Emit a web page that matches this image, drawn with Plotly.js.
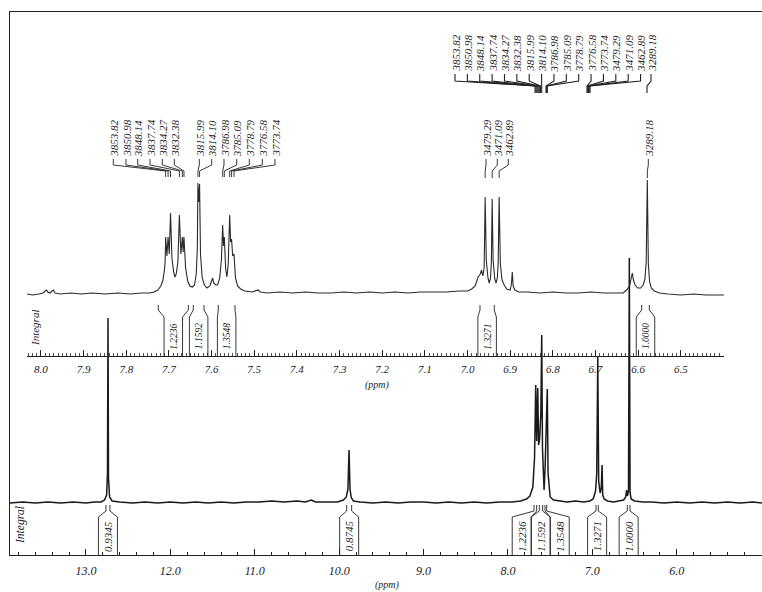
<!DOCTYPE html>
<html><head><meta charset="utf-8">
<script src="https://cdn.plot.ly/plotly-3.0.1.min.js"></script>
<style>html,body{margin:0;padding:0;background:#fff}#chart{width:762px;height:592px}</style>
</head><body><div id="chart"></div>
<script>
// ---------------- DATA ----------------
// Expanded spectrum (inset, 8.0 - 6.4 ppm): chemical shift and intensity
const expPpm = [8.033,8.020,8.005,7.995,7.990,7.987,7.984,7.979,7.974,7.971,7.967,7.955,7.930,7.905,7.880,7.850,7.820,7.790,7.765,7.745,7.735,7.726,7.719,7.714,7.7105,7.709,7.7076,7.7048,7.7020,7.6992,7.6963,7.693,7.689,7.686,7.683,7.679,7.6755,7.6720,7.6685,7.6667,7.6648,7.661,7.656,7.651,7.645,7.640,7.636,7.6335,7.632,7.6301,7.6282,7.626,7.622,7.617,7.611,7.604,7.600,7.5975,7.595,7.590,7.586,7.581,7.577,7.5740,7.5721,7.5702,7.567,7.564,7.561,7.5576,7.5554,7.5532,7.5505,7.5475,7.544,7.539,7.532,7.522,7.505,7.495,7.491,7.486,7.470,7.440,7.410,7.380,7.350,7.320,7.290,7.260,7.230,7.200,7.170,7.140,7.110,7.080,7.050,7.020,7.000,6.990,6.982,6.975,6.970,6.967,6.964,6.961,6.9586,6.956,6.952,6.949,6.946,6.944,6.9422,6.940,6.936,6.933,6.930,6.928,6.9258,6.923,6.919,6.914,6.908,6.900,6.897,6.895,6.893,6.889,6.880,6.860,6.830,6.800,6.770,6.740,6.710,6.680,6.650,6.635,6.627,6.620,6.6136,6.611,6.607,6.601,6.594,6.588,6.584,6.581,6.5784,6.576,6.573,6.569,6.562,6.550,6.530,6.500,6.470,6.440,6.410,6.399];
const expInt = [0,-1,0,1,3,4,2,1,3,4,1,0,1,0,1,0,1,0,1,1,2,4,8,14,24,32,57,38,57,40,81,36,22,17,20,32,79,40,57,42,57,26,13,8,7,9,20,45,111,92,110,40,16,9,6,8,13,16,11,9,9,16,34,69,48,57,25,17,30,79,52,55,38,40,16,8,5,3,2,3,4,2,1,2,1,2,1,1,2,1,2,1,2,1,2,2,2,3,3,5,8,17,20,24,18,26,97,34,16,11,16,32,95,34,15,11,16,32,97,30,14,9,5,4,10,22,8,4,2,2,1,2,1,1,2,1,1,1,4,8,21,14,9,6,6,9,15,32,114,30,12,6,3,1,0,-1,0,-1,-1,-1];

// Full spectrum (14 - 5 ppm)
const fullPpm = [13.90,13.75,13.60,13.45,13.30,13.15,13.00,12.90,12.82,12.78,12.755,12.745,12.739,12.733,12.72,12.69,12.60,12.45,12.30,12.15,12.00,11.85,11.70,11.55,11.40,11.25,11.10,10.95,10.80,10.65,10.50,10.40,10.33,10.28,10.15,10.02,9.95,9.915,9.896,9.883,9.871,9.855,9.83,9.75,9.60,9.45,9.30,9.15,9.00,8.85,8.70,8.55,8.40,8.25,8.10,7.95,7.85,7.78,7.74,7.705,7.685,7.671,7.660,7.647,7.637,7.625,7.610,7.600,7.591,7.582,7.572,7.560,7.547,7.534,7.525,7.512,7.50,7.46,7.40,7.30,7.20,7.10,7.03,6.99,6.962,6.948,6.936,6.925,6.908,6.895,6.885,6.877,6.86,6.82,6.75,6.68,6.63,6.605,6.594,6.585,6.572,6.562,6.553,6.54,6.50,6.40,6.30,6.15,6.00,5.85,5.70,5.55,5.40,5.25,5.10,4.99];
const fullInt = [0,1,0,1,0,1,0,1,1,3,8,30,185,25,6,2,1,0,1,0,1,0,1,0,1,0,1,1,2,1,2,1,3,1,1,1,3,6,14,53,13,5,2,1,0,1,0,1,1,0,1,0,1,0,1,1,2,4,7,16,45,118,62,115,58,64,90,168,55,28,13,35,70,114,30,12,6,3,2,1,2,1,2,4,12,30,146,22,10,14,38,8,4,2,1,2,3,6,13,7,12,245,10,4,2,1,1,0,1,0,1,0,1,0,1,0];

// Peak labels (Hz, spectrometer frequency 500 MHz)
const SF = 500;
const expPeakHz = [3853.82,3850.98,3848.14,3837.74,3834.27,3832.38,3815.99,3814.10,3786.98,3785.09,3778.79,3776.58,3773.74,3479.29,3471.09,3462.89,3289.18];
const fullPeakHz = [3853.82,3850.98,3848.14,3837.74,3834.27,3832.38,3815.99,3814.10,3786.98,3785.09,3778.79,3776.58,3773.74,3479.29,3471.09,3462.89,3289.18];

// Integrals: ranges (ppm) and values
const expIntFrom = [7.7250,7.6429,7.5843,6.9707,6.5916];
const expIntTo   = [7.6546,7.6178,7.5451,6.9372,6.5737];
const expIntVal  = ['1.2236','1.1592','1.3548','1.3271','1.0000'];
const fullIntFrom = [12.763,9.911,7.691,7.629,7.561,6.957,6.586];
const fullIntTo   = [12.716,9.852,7.660,7.589,7.541,6.930,6.554];
const fullIntVal  = ['0.9345','0.8745','1.2236','1.1592','1.3548','1.3271','1.0000'];

// Tick labels
const expTicks = [8.0,7.9,7.8,7.7,7.6,7.5,7.4,7.3,7.2,7.1,7.0,6.9,6.8,6.7,6.6,6.5];
const fullTicks = [13.0,12.0,11.0,10.0,9.0,8.0,7.0,6.0];

// ---------------- LAYOUT GEOMETRY ----------------
const W = 762, H = 592;
const X = p => p / W, Y = p => 1 - p / H;
const TOP = {l:27, r:724, t:12, b:356, x0:8.0328, x1:6.3986, y0:-62, y1:282};
const BOT = {l:10, r:762, t:12, b:555, x0:13.9, x1:4.99, y0:-52, y1:491};
const topPx = v => TOP.l + (TOP.x0 - v) / (TOP.x0 - TOP.x1) * (TOP.r - TOP.l);
const botPx = v => BOT.l + (BOT.x0 - v) / (BOT.x0 - BOT.x1) * (BOT.r - BOT.l);
const INK = '#222';
const SERIF = 'Liberation Serif, Times New Roman, serif';

const shapes = [], annotations = [];
const pathPx = pts => 'M' + pts.map(([x, y]) => X(x).toFixed(5) + ',' + Y(y).toFixed(5)).join('L');
function addPath(pts, w) {
  shapes.push({type:'path', xref:'paper', yref:'paper', path: pathPx(pts), line:{color:INK, width:w || 0.9}});
}
function addText(x, y, text, size, angle, xa, ya) {
  annotations.push({xref:'paper', yref:'paper', x:X(x), y:Y(y), text:text, showarrow:false,
    textangle: angle, xanchor: xa || 'center', yanchor: ya || 'middle', borderpad:0,
    font:{family:SERIF, size:size, color:INK, style:'italic'}});
}

// Peak label trees (inset)
const slotsA = [113.3,126,137.7,150,162.3,174.3,199.3,211.7,224,236.7,249.3,262.3,275,486,497.3,508.3,648.3];
expPeakHz.forEach((hz, i) => {
  const L = slotsA[i], T = topPx(hz / SF);
  const end = i >= 13 ? 178 : 177;
  addPath([[L,159],[L,165],[T,171],[T,end]]);
  addText(L, 158, hz.toFixed(2), 11, -90, 'center', 'bottom');
});

// Peak label tree (full spectrum, upper right)
const slotsB = fullPeakHz.map((h, i) => i < 16 ? 455 + i * 12.37 : 651);
const targetsB = [535,536,537,538,539,540,540.5,541.7,546,546.7,547.3,587,587.8,588.5,589.2,590,647];
fullPeakHz.forEach((hz, i) => {
  const L = slotsB[i], T = targetsB[i];
  addPath([[L,74],[L,81],[T,86],[T,93]], 1.1);
  addText(L, 73, hz.toFixed(2), 11, -90, 'center', 'bottom');
});

// Integral brackets
function integrals(from, to, vals, pxf, boxW, yTop, yBend, yRoof, yAxis, fs) {
  const n = from.length;
  const o = from.map((f, i) => [pxf(f), pxf(to[i])]);
  const mids = o.map(([a, b]) => (a + b) / 2);
  // resolve overlapping label boxes: group and center on mean
  const centers = mids.slice();
  let groups = [[0]];
  for (let i = 1; i < n; i++) {
    const g = groups[groups.length - 1];
    if (mids[i] - mids[g[g.length - 1]] < boxW) g.push(i); else groups.push([i]);
  }
  groups.forEach(g => {
    if (g.length < 2) return;
    const m = g.reduce((s, k) => s + mids[k], 0) / g.length;
    g.forEach((k, j) => centers[k] = m + (j - (g.length - 1) / 2) * boxW);
  });
  for (let i = 0; i < n; i++) {
    const [a, b] = o[i], c = centers[i];
    addPath([[a,yTop],[a,yBend],[c - boxW/2,yRoof],[c - boxW/2,yAxis]]);
    addPath([[b,yTop],[b,yBend],[c + boxW/2,yRoof],[c + boxW/2,yAxis]]);
    addText(c, (yRoof + yAxis) / 2, vals[i], fs, -90);
  }
}
integrals(expIntFrom, expIntTo, expIntVal, topPx, 18.5, 305, 310, 317, 356, 9.5);
integrals(fullIntFrom, fullIntTo, fullIntVal, botPx, 19, 505, 511, 517, 555, 11);

addText(35, 328, 'Integral', 11, -90);
addText(20, 525, 'Integral', 11.5, -90);
addText(377, 385, '(ppm)', 10);
addText(387, 585, '(ppm)', 10);

// ---------------- TRACES ----------------
const traces = [
  {x: fullPpm, y: fullInt, xaxis:'x', yaxis:'y', type:'scatter', mode:'lines',
   line:{color:'#1a1a1a', width:1.5}, hoverinfo:'skip'},
  {x: expPpm, y: expInt, xaxis:'x2', yaxis:'y2', type:'scatter', mode:'lines',
   line:{color:'#2a2a2a', width:1.1}, hoverinfo:'skip'}
];

const tickFontB = {family:SERIF, size:12, color:INK, style:'italic'};
const tickFontT = {family:SERIF, size:11, color:INK, style:'italic'};

const layout = {
  width:W, height:H, margin:{l:0, r:0, t:0, b:0},
  paper_bgcolor:'#fff', plot_bgcolor:'rgba(0,0,0,0)', showlegend:false,
  xaxis: {domain:[X(BOT.l), X(BOT.r)], anchor:'y', range:[BOT.x0, BOT.x1],
    showline:true, mirror:true, linecolor:INK, linewidth:1.2, showgrid:false, zeroline:false,
    tickmode:'array', tickvals:fullTicks, ticktext:fullTicks.map(v => v.toFixed(1)),
    ticks:'inside', ticklen:6, tickcolor:INK, tickwidth:1, tickfont:tickFontB, ticklabelstandoff:4,
    minor:{tickmode:'linear', tick0:0, dtick:0.2, ticks:'inside', ticklen:3, tickcolor:INK, tickwidth:1, showgrid:false}},
  yaxis: {domain:[Y(BOT.b), Y(BOT.t)], anchor:'x', range:[BOT.y0, BOT.y1],
    showline:true, linecolor:INK, linewidth:1.2, showgrid:false, zeroline:false,
    ticks:'', showticklabels:false},
  xaxis2: {domain:[X(TOP.l), X(TOP.r)], anchor:'y2', range:[TOP.x0, TOP.x1],
    showline:true, linecolor:INK, linewidth:1.1, showgrid:false, zeroline:false,
    tickmode:'array', tickvals:expTicks, ticktext:expTicks.map(v => v.toFixed(1)),
    ticks:'inside', ticklen:6, tickcolor:INK, tickwidth:1, tickfont:tickFontT, ticklabelstandoff:3,
    minor:{tickmode:'linear', tick0:0, dtick:0.01, ticks:'inside', ticklen:3, tickcolor:INK, tickwidth:0.8, showgrid:false}},
  yaxis2: {domain:[Y(TOP.b), Y(TOP.t)], anchor:'x2', range:[TOP.y0, TOP.y1], visible:false},
  shapes: shapes,
  annotations: annotations
};

Plotly.newPlot('chart', traces, layout, {staticPlot:true, displayModeBar:false});
</script>
</body></html>
